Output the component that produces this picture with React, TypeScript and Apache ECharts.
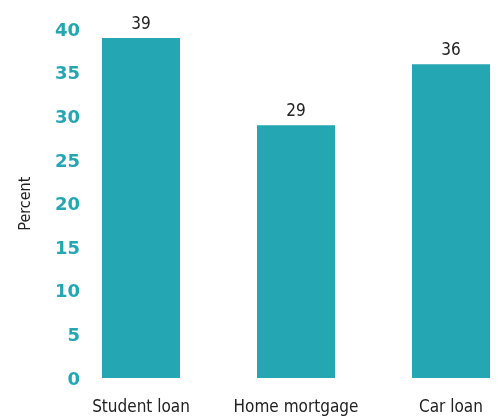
import React, { useEffect, useRef } from "react";
import * as echarts from "echarts";

const categories = ["Student loan", "Home mortgage", "Car loan"];
const values = [39, 29, 36];
const yMax = 40;
const yInterval = 5;

const TEAL = "#25a6b3";
const DARK = "#222222";
const NARROW = "'DejaVu Sans Condensed', 'Liberation Sans Narrow', 'DejaVu Sans', sans-serif";

export default function App() {
  const ref = useRef<HTMLDivElement>(null);
  useEffect(() => {
    if (!ref.current) return;
    const chart = echarts.init(ref.current, undefined, { renderer: "svg" });
    chart.setOption({
      animation: false,
      grid: { left: 63.5, width: 465, top: 29.3, bottom: 41 },
      xAxis: {
        type: "category",
        data: categories,
        axisLine: { show: false },
        axisTick: { show: false },
        axisLabel: {
          interval: 0,
          color: DARK,
          fontFamily: NARROW,
          fontSize: 17,
          margin: 19,
        },
      },
      yAxis: {
        type: "value",
        min: 0,
        max: yMax,
        interval: yInterval,
        name: "Percent",
        nameLocation: "middle",
        nameGap: 31,
        nameTextStyle: { color: DARK, fontFamily: NARROW, fontSize: 16 },
        axisLine: { show: false },
        axisTick: { show: false },
        splitLine: { show: false },
        axisLabel: {
          color: TEAL,
          fontFamily: "'DejaVu Sans', sans-serif",
          fontWeight: "bold",
          fontSize: 18,
          margin: -16.5,
        },
      },
      series: [
        {
          type: "bar",
          data: values,
          barWidth: 78,
          itemStyle: { color: TEAL },
          label: {
            show: true,
            position: "top",
            distance: 7,
            color: DARK,
            fontFamily: NARROW,
            fontSize: 17,
          },
        },
      ],
    });
    return () => chart.dispose();
  }, []);
  return (
    <div style={{ position: "fixed", left: 0, top: 0, width: 501, height: 419, overflow: "hidden" }}>
      <style>{`text[style*="Condensed"], text[font-family*="Condensed"] { font-stretch: condensed !important; }`}</style>
      <div ref={ref} style={{ width: 560, height: 419 }} />
    </div>
  );
}
